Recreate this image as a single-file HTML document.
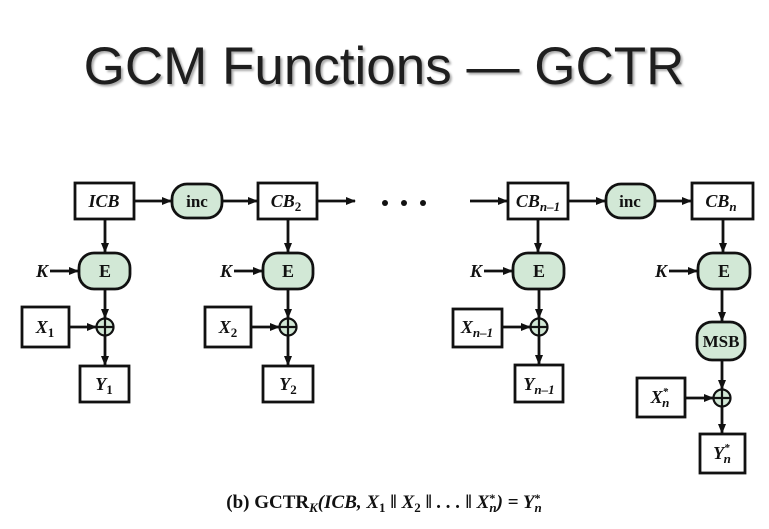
<!DOCTYPE html>
<html><head><meta charset="utf-8"><style>
html,body{margin:0;padding:0;background:#fff;width:769px;height:529px;overflow:hidden}
svg{display:block}
.t{font-family:"Liberation Sans",sans-serif}
.s{font-family:"Liberation Serif",serif;font-weight:bold}
</style></head><body>
<svg width="769" height="529" viewBox="0 0 769 529">
<defs><marker id="ah" markerWidth="10" markerHeight="8" refX="9" refY="4" orient="auto" markerUnits="userSpaceOnUse"><path d="M0,0 L10,4 L0,8 Z" fill="#111"/></marker></defs>
<text class="t" x="384" y="84" font-size="53" text-anchor="middle" fill="#1e1e1e" style="text-shadow:2px 2px 2px #aaa">GCM Functions — GCTR</text>
<g stroke="#111" stroke-width="2.8" fill="none">
<rect x="75" y="183" width="59" height="36" fill="#fff"/>
<rect x="172" y="184" width="50" height="34" rx="15" fill="#d2e8d6"/>
<rect x="258" y="183" width="59" height="36" fill="#fff"/>
<rect x="508" y="183" width="60" height="36" fill="#fff"/>
<rect x="606" y="184" width="49" height="34" rx="15" fill="#d2e8d6"/>
<rect x="692" y="183" width="61" height="36" fill="#fff"/>
<line x1="134" y1="201" x2="171" y2="201" marker-end="url(#ah)"/>
<line x1="222" y1="201" x2="257" y2="201" marker-end="url(#ah)"/>
<line x1="317" y1="201" x2="355" y2="201" marker-end="url(#ah)"/>
<line x1="470" y1="201" x2="507" y2="201" marker-end="url(#ah)"/>
<line x1="568" y1="201" x2="605" y2="201" marker-end="url(#ah)"/>
<line x1="655" y1="201" x2="691" y2="201" marker-end="url(#ah)"/>
<rect x="79" y="253" width="51" height="36" rx="15" fill="#d2e8d6"/>
<rect x="263" y="253" width="50" height="36" rx="15" fill="#d2e8d6"/>
<rect x="513" y="253" width="51" height="36" rx="15" fill="#d2e8d6"/>
<rect x="698" y="253" width="52" height="36" rx="15" fill="#d2e8d6"/>
<line x1="105" y1="219" x2="105" y2="252" marker-end="url(#ah)"/>
<line x1="288" y1="219" x2="288" y2="252" marker-end="url(#ah)"/>
<line x1="538" y1="219" x2="538" y2="252" marker-end="url(#ah)"/>
<line x1="723" y1="219" x2="723" y2="252" marker-end="url(#ah)"/>
<line x1="50" y1="271" x2="78" y2="271" marker-end="url(#ah)"/>
<line x1="234" y1="271" x2="262" y2="271" marker-end="url(#ah)"/>
<line x1="484" y1="271" x2="512" y2="271" marker-end="url(#ah)"/>
<line x1="669" y1="271" x2="697" y2="271" marker-end="url(#ah)"/>
<rect x="22" y="307" width="47" height="40" fill="#fff"/>
<rect x="205" y="307" width="46" height="40" fill="#fff"/>
<rect x="453" y="309" width="49" height="38" fill="#fff"/>
<rect x="697" y="322" width="48" height="38" rx="15" fill="#d2e8d6"/>
<rect x="637" y="378" width="48" height="39" fill="#fff"/>
<rect x="80" y="366" width="49" height="36" fill="#fff"/>
<rect x="263" y="366" width="50" height="36" fill="#fff"/>
<rect x="515" y="365" width="48" height="37" fill="#fff"/>
<rect x="700" y="434" width="45" height="39" fill="#fff"/>
<line x1="105" y1="289" x2="105" y2="318" marker-end="url(#ah)"/>
<line x1="105" y1="335" x2="105" y2="365" marker-end="url(#ah)"/>
<line x1="69" y1="327" x2="96" y2="327" marker-end="url(#ah)"/>
<line x1="288" y1="289" x2="288" y2="318" marker-end="url(#ah)"/>
<line x1="288" y1="335" x2="288" y2="365" marker-end="url(#ah)"/>
<line x1="251" y1="327" x2="279" y2="327" marker-end="url(#ah)"/>
<line x1="539" y1="289" x2="539" y2="318" marker-end="url(#ah)"/>
<line x1="539" y1="335" x2="539" y2="364" marker-end="url(#ah)"/>
<line x1="502" y1="327" x2="530" y2="327" marker-end="url(#ah)"/>
<line x1="722" y1="289" x2="722" y2="321" marker-end="url(#ah)"/>
<line x1="722" y1="360" x2="722" y2="389" marker-end="url(#ah)"/>
<line x1="722" y1="406" x2="722" y2="433" marker-end="url(#ah)"/>
<line x1="685" y1="398" x2="713" y2="398" marker-end="url(#ah)"/>
</g>
<g stroke="#111" stroke-width="2.2" fill="#d2e8d6">
<g><circle cx="105" cy="327" r="8.5"/><path d="M96.5,327H113.5M105,318.5V335.5"/></g>
<g><circle cx="288" cy="327" r="8.5"/><path d="M279.5,327H296.5M288,318.5V335.5"/></g>
<g><circle cx="539" cy="327" r="8.5"/><path d="M530.5,327H547.5M539,318.5V335.5"/></g>
<g><circle cx="722" cy="398" r="8.5"/><path d="M713.5,398H730.5M722,389.5V406.5"/></g>
</g>
<g fill="#111"><circle cx="385" cy="203" r="3"/><circle cx="404" cy="203" r="3"/><circle cx="423" cy="203" r="3"/></g>
<g class="s" font-size="18" fill="#111" text-anchor="middle">
<text x="104" y="207" font-style="italic">ICB</text>
<text x="197" y="207" font-size="17">inc</text>
<text x="286" y="207" font-style="italic">CB<tspan font-size="13" dy="4" font-style="normal">2</tspan></text>
<text x="538" y="207" font-style="italic">CB<tspan font-size="13" dy="4">n–1</tspan></text>
<text x="630" y="207" font-size="17">inc</text>
<text x="721" y="207" font-style="italic">CB<tspan font-size="13" dy="4">n</tspan></text>
<text x="105" y="277">E</text><text x="288" y="277">E</text><text x="539" y="277">E</text><text x="724" y="277">E</text>
<text x="42" y="277" font-style="italic">K</text><text x="226" y="277" font-style="italic">K</text><text x="476" y="277" font-style="italic">K</text><text x="661" y="277" font-style="italic">K</text>
<text x="45" y="333" font-style="italic">X<tspan font-size="13" dy="4" font-style="normal">1</tspan></text>
<text x="228" y="333" font-style="italic">X<tspan font-size="13" dy="4" font-style="normal">2</tspan></text>
<text x="477" y="333" font-style="italic">X<tspan font-size="13" dy="4">n–1</tspan></text>
<text x="721" y="347" font-size="17">MSB</text>
<text x="660" y="403" font-style="italic">X<tspan font-size="11" dy="-8">*</tspan><tspan font-size="13" dx="-6" dy="12">n</tspan></text>
<text x="104" y="390" font-style="italic">Y<tspan font-size="13" dy="4" font-style="normal">1</tspan></text>
<text x="288" y="390" font-style="italic">Y<tspan font-size="13" dy="4" font-style="normal">2</tspan></text>
<text x="539" y="390" font-style="italic">Y<tspan font-size="13" dy="4">n–1</tspan></text>
<text x="722" y="459" font-style="italic">Y<tspan font-size="11" dy="-8">*</tspan><tspan font-size="13" dx="-6" dy="12">n</tspan></text>
</g>
<text class="s" x="384" y="508" font-size="19" text-anchor="middle" fill="#111">(b) GCTR<tspan font-size="13" dy="4" font-style="italic">K</tspan><tspan dy="-4" font-style="italic">(ICB, X</tspan><tspan font-size="13" dy="4">1</tspan><tspan dy="-4" font-style="italic"> ǁ X</tspan><tspan font-size="13" dy="4">2</tspan><tspan dy="-4" font-style="italic"> ǁ . . . ǁ X</tspan><tspan font-size="12" dy="-6">*</tspan><tspan font-size="13" dx="-6" dy="10" font-style="italic">n</tspan><tspan dy="-4" font-style="italic">) = Y</tspan><tspan font-size="12" dy="-6">*</tspan><tspan font-size="13" dx="-6" dy="10" font-style="italic">n</tspan></text>
</svg>
</body></html>
